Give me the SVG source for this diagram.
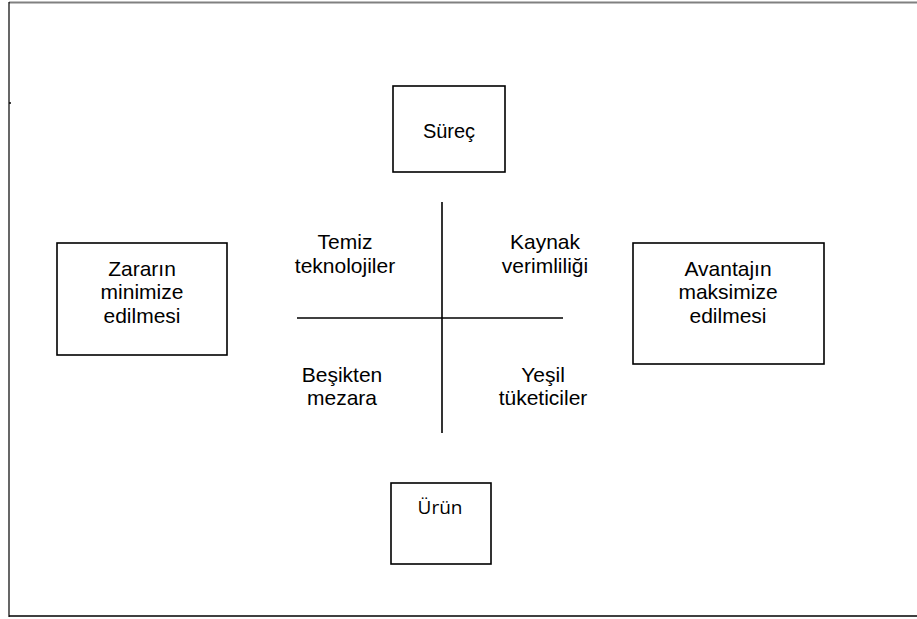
<svg xmlns="http://www.w3.org/2000/svg" width="917" height="619" viewBox="0 0 917 619">
<style>
.box{fill:#fff;stroke:#000;stroke-width:1.6}
.t{font-family:"Liberation Sans",Arial,sans-serif;font-size:21px;fill:#000;text-anchor:middle}
.c{fill:none;stroke:#000;stroke-width:1.6}
</style>
<rect width="917" height="619" fill="#fff"/>
<g id="frame">
<line x1="9" y1="2.5" x2="917" y2="2.5" stroke="#808080" stroke-width="2"/>
<line x1="9" y1="2" x2="9" y2="617" stroke="#000" stroke-width="1.2"/>
<line x1="9" y1="616" x2="917" y2="616" stroke="#000" stroke-width="1.6"/>
<line x1="9" y1="103" x2="11" y2="103" stroke="#000" stroke-width="1.5"/>
</g>
<g id="connectors">
<line class="c" x1="442" y1="202" x2="442" y2="433"/>
<line class="c" x1="297" y1="318" x2="563" y2="318"/>
</g>
<g id="surec">
<rect class="box" x="393" y="86" width="112" height="86"/>
<text class="t" x="449" y="138" style="font-size:20px">Süreç</text>
</g>
<g id="zararin">
<rect class="box" x="57" y="243" width="170" height="112"/>
<text class="t" x="142" y="276">Zararın</text>
<text class="t" x="142" y="299">minimize</text>
<text class="t" x="142" y="323">edilmesi</text>
</g>
<g id="avantajin">
<rect class="box" x="633" y="243" width="191" height="121"/>
<text class="t" x="728" y="276">Avantajın</text>
<text class="t" x="728" y="299">maksimize</text>
<text class="t" x="728" y="323">edilmesi</text>
</g>
<g id="urun">
<rect class="box" x="391" y="483" width="100" height="81"/>
<text x="440" y="514" style="font-family:'Open Sans','Noto Sans',sans-serif;font-size:19px;text-anchor:middle;fill:#000">Ürün</text>
</g>
<g id="q-temiz">
<text class="t" x="345" y="249">Temiz</text>
<text class="t" x="345" y="273">teknolojiler</text>
</g>
<g id="q-kaynak">
<text class="t" x="545" y="249">Kaynak</text>
<text class="t" x="545" y="273">verimliliği</text>
</g>
<g id="q-besikten">
<text class="t" x="342" y="382">Beşikten</text>
<text class="t" x="342" y="405">mezara</text>
</g>
<g id="q-yesil">
<text class="t" x="543" y="382">Yeşil</text>
<text class="t" x="543" y="405">tüketiciler</text>
</g>
</svg>
